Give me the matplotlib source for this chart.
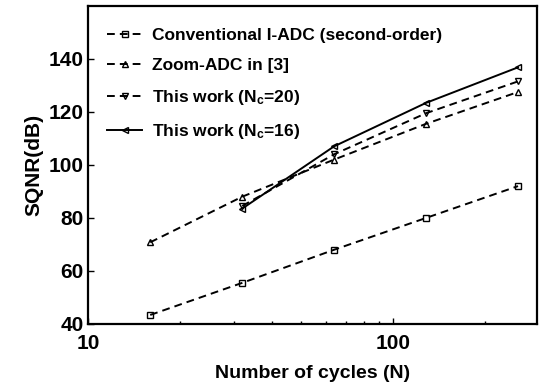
import matplotlib
matplotlib.use("Agg")
import matplotlib.pyplot as plt

# Data
n_full = [16, 32, 64, 128, 256]
n_this = [32, 64, 128, 256]
sqnr_conv = [43.4, 55.5, 68.0, 80.0, 92.0]
sqnr_zoom = [70.8, 88.0, 102.0, 115.5, 127.5]
sqnr_nc20 = [84.5, 104.0, 119.5, 131.5]
sqnr_nc16 = [83.5, 107.0, 123.4, 136.8]

labels = ["Conventional I-ADC (second-order)", "Zoom-ADC in [3]",
          "This work (N$_\\mathregular{c}$=20)", "This work (N$_\\mathregular{c}$=16)"]
yticks = [40, 60, 80, 100, 120, 140]

fam = "Liberation Sans"
plt.rcParams["font.family"] = [fam, "DejaVu Sans"]
plt.rcParams["font.weight"] = "bold"
plt.rcParams["mathtext.fontset"] = "custom"
plt.rcParams["mathtext.rm"] = fam + ":bold"
plt.rcParams["mathtext.bf"] = fam + ":bold"
plt.rcParams["mathtext.default"] = "bf"

fig = plt.figure(figsize=(5.39, 3.88), dpi=100)
ax = fig.add_axes([0.163, 0.165, 0.833, 0.820])

dash = (0, (4, 2.6))
common = dict(color="black", linewidth=1.4, markersize=5, markerfacecolor="none",
              markeredgewidth=1.0)
ax.plot(n_full, sqnr_conv, linestyle=dash, marker="s", label=labels[0], **common)
ax.plot(n_full, sqnr_zoom, linestyle=dash, marker="^", label=labels[1], **common)
ax.plot(n_this, sqnr_nc20, linestyle=dash, marker="v", label=labels[2], **common)
ax.plot(n_this, sqnr_nc16, linestyle="-", marker="<", label=labels[3], **common)

ax.set_xscale("log")
ax.set_xlim(10, 295)
ax.set_ylim(40, 160)
ax.set_yticks(yticks)
ax.set_xticks([10, 100])
ax.set_xticklabels(["10", "100"])
ax.tick_params(axis="both", which="both", direction="in", labelsize=15,
               top=False, right=False)
ax.tick_params(which="major", length=4, width=1)
ax.tick_params(which="minor", length=2.5, width=1)
ax.tick_params(axis="x", pad=7)
ax.tick_params(axis="y", pad=3)
for sp in ax.spines.values():
    sp.set_linewidth(1.6)

ax.set_xlabel("Number of cycles (N)", fontsize=14, fontweight="bold", labelpad=9)
ax.set_ylabel("SQNR(dB)", fontsize=15, fontweight="bold", labelpad=4)

leg = ax.legend(loc="upper left", frameon=False, fontsize=12.5, handlelength=2.0,
                handletextpad=0.6, labelspacing=0.85, borderaxespad=0.2,
                bbox_to_anchor=(0.02, 0.963))

fig.savefig("out.png", dpi=100)
